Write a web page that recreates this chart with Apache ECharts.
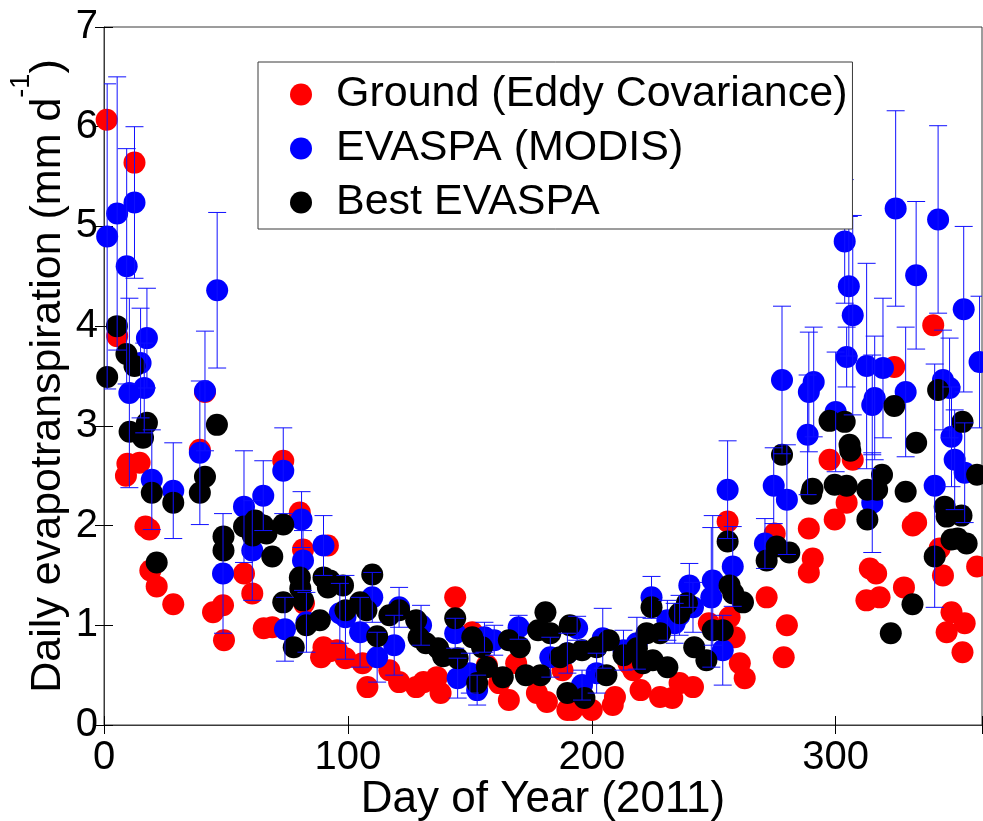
<!DOCTYPE html>
<html>
<head>
<meta charset="utf-8">
<script src="https://cdn.jsdelivr.net/npm/echarts/dist/echarts.min.js"></script>
<style>
  html, body { margin: 0; padding: 0; background: #ffffff; }
  #chart { width: 983px; height: 821px; }
</style>
</head>
<body>
<div id="chart"></div>
<script>
// Daily evapotranspiration, 2011: ground (eddy covariance) vs. EVASPA estimates

const groundDay = [1.1, 5.4, 9.0, 9.6, 12.5, 14.6, 17.0, 18.6, 19.0, 21.6, 28.4, 39.3, 41.4, 44.7, 48.8, 49.2,
  57.4, 60.8, 65.5, 69.0, 73.5, 80.3, 81.6, 82.0, 89.0, 90.0, 91.8, 92.6, 95.5, 99.0, 106, 108, 117, 121, 128,
  131, 136.5, 138, 144, 151, 157, 162, 166, 169, 177.5, 181.6, 188, 190, 192, 200, 208.6, 209.5, 215, 217, 220,
  228, 233, 236, 241.5, 248, 255.7, 256.5, 258.6, 260.7, 262.7, 271.7, 275, 278.7, 280, 289, 289, 290.6, 297.5,
  299.6, 304.5, 307, 312.6, 314, 316.6, 318, 324, 328, 331.6, 333, 340, 342.6, 344, 345.5, 347.5, 352, 352.9, 358];
const groundET = [6.07, 3.9, 2.5, 2.62, 5.64, 2.63, 1.99, 1.96, 1.55, 1.39, 1.21, 2.76, 3.34, 1.13, 1.2, 0.85,
  1.52, 1.32, 0.97, 0.98, 2.65, 2.13, 1.76, 1.22, 0.68, 0.78, 1.8, 0.74, 0.75, 0.67, 0.62, 0.38, 0.55, 0.43, 0.38,
  0.43, 0.48, 0.32, 1.28, 0.93, 0.6, 0.42, 0.25, 0.62, 0.32, 0.23, 0.55, 0.15, 0.15, 0.15, 0.2, 0.28, 0.62, 0.55, 0.35,
  0.28, 0.27, 0.42, 0.38, 1.02, 2.04, 1.08, 0.88, 0.62, 0.47, 1.28, 1.92, 0.68, 1.0, 1.97, 1.53, 1.67, 2.66,
  2.06, 2.23, 2.66, 1.25, 1.57, 1.52, 1.28, 3.59, 1.38, 2.0, 2.03, 4.01, 1.77, 1.5, 0.93, 1.13, 0.73, 1.02, 1.59];

const modisDay = [1.3, 5.4, 9.3, 10.4, 12.5, 15.0, 16.5, 17.6, 19.6, 28.4, 39.3, 41.4, 46.4, 48.8, 57.4, 60.8,
  65.3, 73.5, 74.2, 81.0, 81.6, 83.0, 90.0, 96.7, 99.0, 105, 110, 112, 119, 121, 130, 144, 145, 150, 153, 156, 160,
  170, 183, 190, 194, 196, 202, 204.5, 213, 218.5, 224.5, 231, 234, 236, 240, 241.5, 249, 249.6, 253.7, 255.7,
  257.8, 271, 274.6, 278, 280, 288.5, 289, 291, 300, 303.7, 304.5, 305.4, 307, 312.7, 315, 315, 316, 319.4, 324.6,
  328.7, 333, 340.6, 342, 344, 346.7, 347.5, 348.8, 352.5, 352.9, 359];
const modisET = [4.9, 5.13, 4.6, 3.33, 5.24, 3.63, 3.38, 3.88, 2.46, 2.35, 2.73, 3.35, 4.36, 1.52, 2.19, 1.75,
  2.3, 2.55, 0.96, 2.06, 1.65, 1.03, 1.8, 1.12, 1.08, 0.93, 1.28, 0.68, 0.8, 1.18, 1.0, 0.92, 0.47, 0.52, 0.35, 0.88, 0.85,
  0.98, 0.68, 0.72, 0.97, 0.4, 0.52, 0.87, 0.75, 0.82, 1.28, 1.05, 1.02, 1.1, 1.4, 1.18, 1.28, 1.45, 0.75, 2.36,
  1.59, 1.82, 2.4, 3.46, 2.26, 2.91, 3.34, 3.44, 3.14, 4.85, 3.69, 4.4, 4.11, 3.6, 3.21, 2.23, 3.28, 3.58, 5.18,
  3.34, 4.51, 2.4, 5.07, 3.46, 3.38, 2.89, 2.66, 4.17, 2.53, 3.64];
const modisErr = [1.53, 1.37, 1.18, 0.95, 0.76, 0.55, 0.45, 0.5, 0.5, 0.48, 0.72, 0.6, 0.78, 0.6, 0.56, 0.5,
  0.35, 0.43, 0.32, 0.28, 0.3, 0.3, 0.3, 0.3, 0.42, 0.35, 0.25, 0.25, 0.3, 0.2, 0.2, 0.15, 0.2, 0.2, 0.15, 0.15, 0.15,
  0.12, 0.2, 0.2, 0.12, 0.15, 0.2, 0.3, 0.2, 0.26, 0.21, 0.2, 0.2, 0.2, 0.22, 0.25, 0.7, 0.65, 0.35, 0.49,
  0.4, 0.25, 0.38, 0.74, 0.55, 0.6, 0.6, 0.55, 0.6, 0.62, 0.3, 0.7, 1.0, 1.03, 0.5, 0.5, 0.62, 0.7, 0.98,
  0.65, 0.74, 1.22, 0.94, 0.5, 0.5, 0.5, 0.5, 0.83, 0.5, 0.66];

const bestDay = [1.3, 5.3, 9.2, 10.5, 12.5, 16.0, 17.6, 19.6, 21.6, 28.4, 39.3, 41.4, 46.3, 49.0, 49.0, 57.4,
  61.0, 62.0, 65.3, 66.6, 69.0, 73.5, 73.5, 77.8, 80.3, 80.5, 81.6, 83.0, 88.5, 90.0, 91.8, 92.6, 98.0, 99.0, 105,
  107.6, 110, 112, 117, 121, 128, 129, 132, 137, 139, 144, 145, 151, 153, 155, 157, 163.5, 166, 170.5, 173, 178,
  179, 181, 183, 187, 190, 190, 191, 196, 197, 202, 206, 207, 213, 218.5, 221, 222.5, 224.5, 225, 228, 231, 236,
  239, 242, 247, 249.6, 253.7, 255.7, 256.5, 258, 262, 271.7, 275.8, 278, 281, 290, 290.5, 297.5, 299.6, 303.7,
  304.5, 305.7, 306, 313, 313, 317, 319, 322.6, 324, 328.7, 331.5, 333, 340.6, 342, 344.7, 345.5, 347.5, 350,
  351.6, 352, 353.7, 358];
const bestET = [3.49, 4.0, 3.72, 2.94, 3.6, 2.88, 3.03, 2.33, 1.63, 2.23, 2.33, 2.49, 3.01, 1.89, 1.75, 1.99,
  1.9, 2.05, 2.0, 1.92, 1.69, 2.01, 1.23, 0.78, 1.48, 1.37, 1.25, 1.0, 1.05, 1.48, 1.38, 1.45, 1.4, 1.15, 1.23,
  1.15, 1.51, 0.89, 1.1, 1.15, 1.05, 0.88, 0.82, 0.77, 0.69, 1.07, 0.67, 0.88, 0.42, 0.78, 0.58, 0.48, 0.85, 0.78, 0.5, 0.95,
  0.5, 1.13, 0.92, 0.68, 0.32, 0.72, 1.0, 0.75, 0.27, 0.78, 0.5, 0.85, 0.7, 0.77, 0.62, 0.92, 1.18, 0.65, 0.92, 0.58, 1.12,
  1.22, 0.78, 0.65, 0.95, 0.95, 1.84, 1.4, 1.32, 1.23, 1.65, 1.79, 2.71, 1.73, 2.32, 2.37, 3.05, 2.41, 3.04,
  2.4, 2.81, 2.75, 2.36, 2.06, 2.36, 2.51, 0.92, 3.2, 2.34, 1.21, 2.83, 1.69, 3.36, 2.19, 2.09, 1.86, 1.87,
  2.1, 3.04, 1.82, 2.51];

const seriesNames = ['Ground (Eddy Covariance)', 'EVASPA (MODIS)', 'Best EVASPA'];
const seriesColors = ['#ff0000', '#0000ff', '#000000'];
const xTicks = [0, 100, 200, 300];

const FONT = '"Liberation Sans", Arial, Helvetica, sans-serif';
const AXIS_COLOR = '#3a3a3a';

const pairs = (xs, ys) => xs.map((x, i) => [x, ys[i]]);

function errorBar(params, api) {
  const x = api.value(0);
  const top = api.coord([x, api.value(2)]);
  const bot = api.coord([x, api.value(1)]);
  const cap = 9;
  const style = { stroke: '#1010ff', lineWidth: 1 };
  return {
    type: 'group',
    children: [
      { type: 'line', shape: { x1: top[0], y1: top[1], x2: bot[0], y2: bot[1] }, style },
      { type: 'line', shape: { x1: top[0] - cap, y1: top[1], x2: top[0] + cap, y2: top[1] }, style },
      { type: 'line', shape: { x1: bot[0] - cap, y1: bot[1], x2: bot[0] + cap, y2: bot[1] }, style }
    ]
  };
}

const scatterBase = (name, color, data, z) => ({
  type: 'scatter',
  name,
  data,
  symbol: 'circle',
  symbolSize: 22,
  itemStyle: { color, opacity: 1 },
  emphasis: { disabled: true },
  z
});

const chart = echarts.init(document.getElementById('chart'), null, { renderer: 'canvas' });

chart.setOption({
  animation: false,
  backgroundColor: '#ffffff',
  textStyle: { fontFamily: FONT },
  grid: {
    left: 104, top: 27, width: 878, height: 698,
    containLabel: false,
    outerBoundsMode: 'none',
    show: true, borderColor: AXIS_COLOR, borderWidth: 1, backgroundColor: 'transparent'
  },
  legend: {
    orient: 'vertical',
    left: 258, top: 62,
    padding: [11, 5, 5, 32],
    itemGap: 11,
    itemWidth: 60, itemHeight: 22,
    borderColor: AXIS_COLOR, borderWidth: 1, backgroundColor: '#ffffff',
    textStyle: { fontSize: 43, lineHeight: 40, color: '#000000', fontFamily: FONT },
    data: seriesNames.map((n) => ({ name: n, icon: 'circle' })),
    selectedMode: false,
    z: 20
  },
  xAxis: [
    {
      type: 'value', min: 0, max: 360, interval: 100,
      axisLine: { show: true, lineStyle: { color: AXIS_COLOR } },
      axisTick: { show: true, inside: true, length: 9, lineStyle: { color: '#000' } },
      splitLine: { show: false },
      axisLabel: {
        fontSize: 40, color: '#000', margin: 13, fontFamily: FONT,
        formatter: (v) => (xTicks.includes(v) ? String(v) : '')
      },
      name: 'Day of Year (2011)',
      nameLocation: 'middle', nameGap: 53,
      nameMoveOverlap: false,
      nameTextStyle: { fontSize: 44, color: '#000', fontFamily: FONT }
    },
    {
      type: 'value', position: 'top', min: 0, max: 360, interval: 100,
      axisLine: { show: false },
      axisTick: { show: true, inside: true, length: 9, lineStyle: { color: '#000' } },
      axisLabel: { show: false }, splitLine: { show: false }
    }
  ],
  yAxis: [
    {
      type: 'value', min: 0, max: 7, interval: 1,
      axisLine: { show: true, lineStyle: { color: AXIS_COLOR } },
      axisTick: { show: true, inside: true, length: 9, lineStyle: { color: '#000' } },
      splitLine: { show: false },
      axisLabel: { fontSize: 40, color: '#000', margin: 6, fontFamily: FONT },
      name: 'Daily evapotranspiration (mm d{sup|-1})',
      nameLocation: 'middle', nameGap: 16,
      nameMoveOverlap: false,
      nameTextStyle: {
        fontSize: 43, lineHeight: 80, color: '#000', fontFamily: FONT,
        rich: {
          sup: { fontSize: 27, lineHeight: 27, verticalAlign: 'top', color: '#000', fontFamily: FONT }
        }
      }
    },
    {
      type: 'value', position: 'right', min: 0, max: 7, interval: 1,
      axisLine: { show: false },
      axisTick: { show: true, inside: true, length: 9, lineStyle: { color: '#000' } },
      axisLabel: { show: false }, splitLine: { show: false }
    }
  ],
  series: [
    scatterBase(seriesNames[0], seriesColors[0], pairs(groundDay, groundET), 2),
    scatterBase(seriesNames[1], seriesColors[1], pairs(modisDay, modisET), 3),
    scatterBase(seriesNames[2], seriesColors[2], pairs(bestDay, bestET), 4),
    {
      type: 'custom',
      name: 'EVASPA (MODIS) range',
      renderItem: errorBar,
      data: modisDay.map((d, i) => [d, modisET[i] - modisErr[i], modisET[i] + modisErr[i]]),
      encode: { x: 0, y: [1, 2] },
      silent: true,
      clip: true,
      z: 5
    }
  ]
});
</script>
</body>
</html>
